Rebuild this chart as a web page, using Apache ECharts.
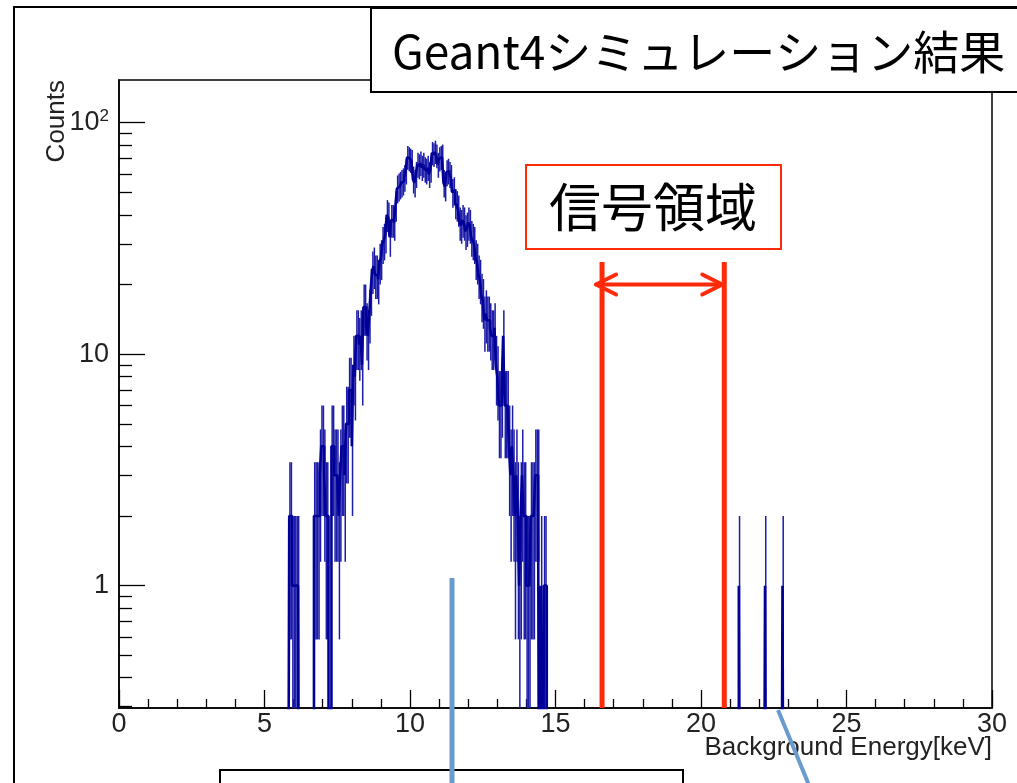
<!DOCTYPE html>
<html>
<head>
<meta charset="utf-8">
<script src="https://cdn.jsdelivr.net/npm/echarts@6/dist/echarts.min.js"></script>
<style>
  html, body { margin: 0; padding: 0; background: #fff; }
  #chart { width: 1017px; height: 783px; }
</style>
</head>
<body>
<div id="chart"></div>
<script>
// histogram counts, 0.05 keV bins starting at 5.80 keV
const binWidth = 0.05;
const firstBin = 5.80;
const counts = [
  0, 2, 2, 1, 1, 1, 1, 1, 0, 0,
  0, 0, 0, 0, 0, 0, 0, 0, 2, 2,
  2, 2, 3, 4, 4, 3, 2, 2, 0, 0,
  4, 4, 3, 3, 3, 2, 3, 4, 4, 3,
  5, 5, 7, 7, 4, 9, 8, 12, 12, 11,
  12, 9, 16, 16, 13, 12, 15, 19, 23, 24,
  22, 22, 21, 25, 26, 30, 31, 33, 40, 39,
  32, 38, 38, 37, 44, 52, 53, 54, 55, 56,
  58, 62, 71, 70, 69, 68, 57, 55, 60, 66,
  65, 67, 64, 66, 63, 62, 64, 60, 63, 74,
  73, 75, 72, 66, 70, 71, 72, 55, 53, 61,
  62, 60, 58, 50, 51, 45, 44, 42, 37, 36,
  38, 37, 34, 35, 37, 36, 32, 31, 30, 26,
  25, 22, 21, 18, 17, 14, 15, 14, 14, 13,
  12, 12, 13, 9, 8, 6, 6, 7, 12, 6,
  6, 6, 4, 3, 4, 3, 2, 3, 2, 1,
  2, 3, 2, 2, 1, 1, 1, 2, 2, 2,
  3, 3, 3, 0, 1, 0, 1, 1, 0, 0
];
// isolated events above the signal region [bin start keV, counts]
const extraBins = [[21.30, 1], [22.20, 1], [22.80, 1]];

const yMajor = [1, 10, 100];
const yMinor = [0.3, 0.4, 0.5, 0.6, 0.7, 0.8, 0.9, 2, 3, 4, 5, 6, 7, 8, 9, 20, 30, 40, 50, 60, 70, 80, 90];
const yMin = 0.296;
const yMax = 153;

// signal region annotation (keV) and the counts level of its arrow
const signalRegion = [16.6, 20.8];
const signalTop = 25;
const arrowLevel = 20;

const FLOOR = 0.01; // stand-in for empty bins on the log axis, below yMin
const nBins = Math.round(30 / binWidth);
const full = new Array(nBins).fill(0);
const offset = Math.round(firstBin / binWidth);
counts.forEach((c, i) => { full[offset + i] = c; });
extraBins.forEach(([x, c]) => { full[Math.round(x / binWidth)] = c; });

const stepData = full.map((c, i) => [i * binWidth, c > 0 ? c : FLOOR]);
stepData.push([30, FLOOR]);

const errData = [];
full.forEach((c, i) => {
  if (c > 0) {
    const e = Math.sqrt(c);
    errData.push([(i + 0.5) * binWidth, c, Math.max(c - e, FLOOR), c + e]);
  }
});

const histColor = '#000099';
const red = '#ff2a0a';
const blue = '#6a9bcf';
const labelFont = 'Liberation Sans';
const jpFont = '"Noto Sans CJK JP"';

const chart = echarts.init(document.getElementById('chart'));

chart.setOption({
  animation: false,
  backgroundColor: '#fff',
  grid: {
    left: 119, right: 25, top: 80, bottom: 75,
    show: true, borderColor: '#000', borderWidth: 1.5,
    outerBoundsMode: 'none'
  },
  xAxis: {
    type: 'value', min: 0, max: 30, interval: 5,
    axisLine: { onZero: false, lineStyle: { color: '#000', width: 1.5 } },
    axisTick: { inside: true, length: 18, lineStyle: { color: '#000', width: 1.3 } },
    minorTick: { show: true, splitNumber: 5, length: 9, lineStyle: { color: '#000', width: 1.3 } },
    axisLabel: { fontSize: 27, color: '#222', margin: 3, fontFamily: labelFont },
    splitLine: { show: false }
  },
  yAxis: [
    {
      type: 'log', min: yMin, max: yMax, position: 'left',
      axisLine: { lineStyle: { color: '#000', width: 1.5 } },
      axisTick: { inside: true, length: 26, customValues: yMajor, lineStyle: { color: '#000', width: 1.3 } },
      axisLabel: {
        customValues: yMajor,
        margin: 10,
        formatter: v => {
          const p = Math.round(Math.log10(v));
          return p >= 2 ? '{b|10}{s|' + p + '}' : '{b|' + Math.round(v) + '}';
        },
        rich: {
          b: { fontSize: 27, fontFamily: labelFont, color: '#222', lineHeight: 30 },
          s: { fontSize: 17, fontFamily: labelFont, color: '#222', lineHeight: 17, verticalAlign: 'top' }
        }
      },
      splitLine: { show: false }
    },
    {
      type: 'log', min: yMin, max: yMax, position: 'left',
      axisLine: { show: false },
      axisTick: { inside: true, length: 13, customValues: yMinor, lineStyle: { color: '#000', width: 1.3 } },
      axisLabel: { show: false },
      splitLine: { show: false }
    }
  ],
  series: [
    {
      type: 'line',
      step: 'end',
      data: stepData,
      showSymbol: false,
      symbol: 'none',
      clip: true,
      lineStyle: { color: histColor, width: 2.6 },
      z: 3
    },
    {
      type: 'custom',
      clip: true,
      data: errData,
      encode: { x: 0, y: [1, 2, 3] },
      renderItem: (params, api) => {
        const a = api.coord([api.value(0), api.value(2)]);
        const b = api.coord([api.value(0), api.value(3)]);
        return {
          type: 'line',
          shape: { x1: a[0], y1: a[1], x2: b[0], y2: b[1] },
          style: { stroke: '#1c1ca8', lineWidth: 1.5 }
        };
      },
      z: 3
    },
    {
      type: 'custom',
      clip: true,
      data: [[signalRegion[0], signalTop, signalRegion[1], arrowLevel]],
      encode: { x: [0, 2], y: [1, 3] },
      renderItem: (params, api) => {
        const xl = api.value(0), xr = api.value(2);
        const top = api.value(1), lvl = api.value(3);
        const l0 = api.coord([xl, yMin]), l1 = api.coord([xl, top]);
        const r0 = api.coord([xr, yMin]), r1 = api.coord([xr, top]);
        const al = api.coord([xl, lvl]), ar = api.coord([xr, lvl]);
        const tl = al[0] - 6, tr = ar[0] - 2, ya = al[1];
        const st = { stroke: red, lineWidth: 5, fill: null, lineCap: 'butt' };
        const sa = { stroke: red, lineWidth: 4, fill: null, lineCap: 'round', lineJoin: 'round' };
        return {
          type: 'group',
          children: [
            { type: 'line', shape: { x1: l0[0], y1: l0[1], x2: l1[0], y2: l1[1] }, style: st },
            { type: 'line', shape: { x1: r0[0], y1: r0[1], x2: r1[0], y2: r1[1] }, style: st },
            { type: 'line', shape: { x1: tl, y1: ya, x2: tr, y2: ya }, style: sa },
            { type: 'polyline', shape: { points: [[tl + 20, ya - 10], [tl, ya], [tl + 20, ya + 10]] }, style: sa },
            { type: 'polyline', shape: { points: [[tr - 20, ya - 10], [tr, ya], [tr - 20, ya + 10]] }, style: sa }
          ]
        };
      },
      z: 4
    }
  ],
  graphic: [
    { type: 'rect', z: 50, shape: { x: 14, y: 7, width: 1100, height: 900 },
      style: { fill: null, stroke: '#000', lineWidth: 2 } },
    { type: 'text', z: 50, x: 57, y: 80, rotation: Math.PI / 2,
      style: { text: 'Counts', font: '26px "Liberation Sans"', fill: '#222', align: 'right', verticalAlign: 'middle' } },
    { type: 'text', z: 50, x: 992, y: 735,
      style: { text: 'Background Energy[keV]', font: '26px "Liberation Sans"', fill: '#222', align: 'right', verticalAlign: 'top' } },
    { type: 'rect', z: 50, shape: { x: 371, y: 8, width: 700, height: 84 },
      style: { fill: '#fff', stroke: '#000', lineWidth: 2 } },
    { type: 'text', z: 51, x: 392, y: 52,
      style: { text: 'Geant4シミュレーション結果', font: '46px ' + jpFont, fill: '#000', align: 'left', verticalAlign: 'middle' } },
    { type: 'rect', z: 50, shape: { x: 526, y: 165, width: 255, height: 84 },
      style: { fill: '#fff', stroke: red, lineWidth: 2 } },
    { type: 'text', z: 51, x: 653, y: 207,
      style: { text: '信号領域', font: '52px ' + jpFont, fill: '#000', align: 'center', verticalAlign: 'middle' } },
    { type: 'rect', z: 50, shape: { x: 220, y: 770, width: 463, height: 40 },
      style: { fill: '#fff', stroke: '#000', lineWidth: 2 } },
    { type: 'line', z: 52, shape: { x1: 452, y1: 578, x2: 452, y2: 790 },
      style: { stroke: blue, lineWidth: 5 } },
    { type: 'line', z: 52, shape: { x1: 778, y1: 710, x2: 811, y2: 790 },
      style: { stroke: blue, lineWidth: 4 } }
  ]
});
</script>
</body>
</html>
